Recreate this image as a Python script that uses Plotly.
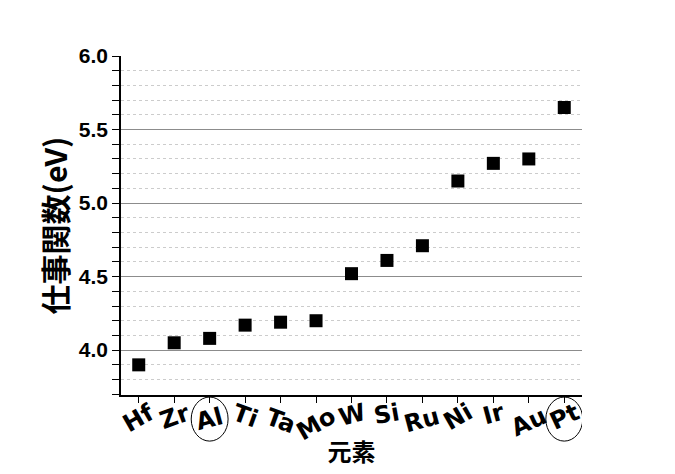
import plotly.graph_objects as go

elements = ["Hf", "Zr", "Al", "Ti", "Ta", "Mo", "W", "Si", "Ru", "Ni", "Ir", "Au", "Pt"]
work_function = [3.90, 4.05, 4.08, 4.17, 4.19, 4.20, 4.52, 4.61, 4.71, 5.15, 5.27, 5.30, 5.65]
label_angles = [-30, -20, -15, 20, 20, -30, -15, -10, -15, -30, -15, -25, -25]
label_dy = [23, 22, 24, 21, 26, 29, 20, 19, 25, 22, 19, 27, 22]
circled = ["Al", "Pt"]
y_ticks = [4.0, 4.5, 5.0, 5.5, 6.0]
y_tick_text = ["4.0", "4.5", "5.0", "5.5", "6.0"]

fig = go.Figure()
fig.add_trace(go.Scatter(
    x=list(range(len(elements))), y=work_function, mode="markers",
    marker=dict(symbol="square", size=13, color="black"),
    showlegend=False, hoverinfo="skip",
))

annotations = []
for i, (name, ang, dy) in enumerate(zip(elements, label_angles, label_dy)):
    annotations.append(dict(
        x=i, y=0, xref="x", yref="paper", text=name, showarrow=False,
        textangle=ang, yanchor="middle", xanchor="center", yshift=-dy,
        font=dict(family="DejaVu Sans", size=24, color="black", weight="bold"),
    ))

shapes = []
for name in circled:
    i = elements.index(name)
    shapes.append(dict(
        type="circle", xref="x", yref="paper",
        x0=i - 0.52, x1=i + 0.52, y0=-0.006, y1=-0.136,
        line=dict(color="black", width=1),
    ))

fig.update_layout(
    width=675, height=474,
    margin=dict(l=113, r=101, t=48, b=87, autoexpand=False),
    paper_bgcolor="white", plot_bgcolor="white",
    annotations=annotations, shapes=shapes,
    xaxis=dict(
        range=[-0.5, len(elements) - 0.5],
        tickvals=list(range(len(elements))), showticklabels=False,
        ticks="outside", ticklen=6, tickcolor="black", tickwidth=1,
        showline=True, linecolor="black", linewidth=1.5,
        showgrid=False, zeroline=False, automargin=False,
        title=dict(text="元素", standoff=42,
                   font=dict(family="Noto Sans CJK JP", size=24, color="black", weight="bold")),
    ),
    yaxis=dict(
        range=[3.695, 6.0],
        tickvals=y_ticks, ticktext=y_tick_text, automargin=False,
        ticks="outside", ticklen=7, tickcolor="black", tickwidth=1,
        showline=True, linecolor="black", linewidth=1.5,
        showgrid=True, gridcolor="#8c8c8c", gridwidth=1,
        zeroline=False,
        tickfont=dict(family="Liberation Sans", size=21, color="black", weight="bold"),
        minor=dict(dtick=0.1, tick0=4.0, ticks="outside", ticklen=7, tickcolor="black",
                   showgrid=True, gridcolor="#cccccc", griddash="dot", gridwidth=1),
        title=dict(text="仕事関数(eV)", standoff=2,
                   font=dict(family="Noto Sans CJK JP", size=30, color="black", weight="bold")),
    ),
)

fig.write_html("out.html")
